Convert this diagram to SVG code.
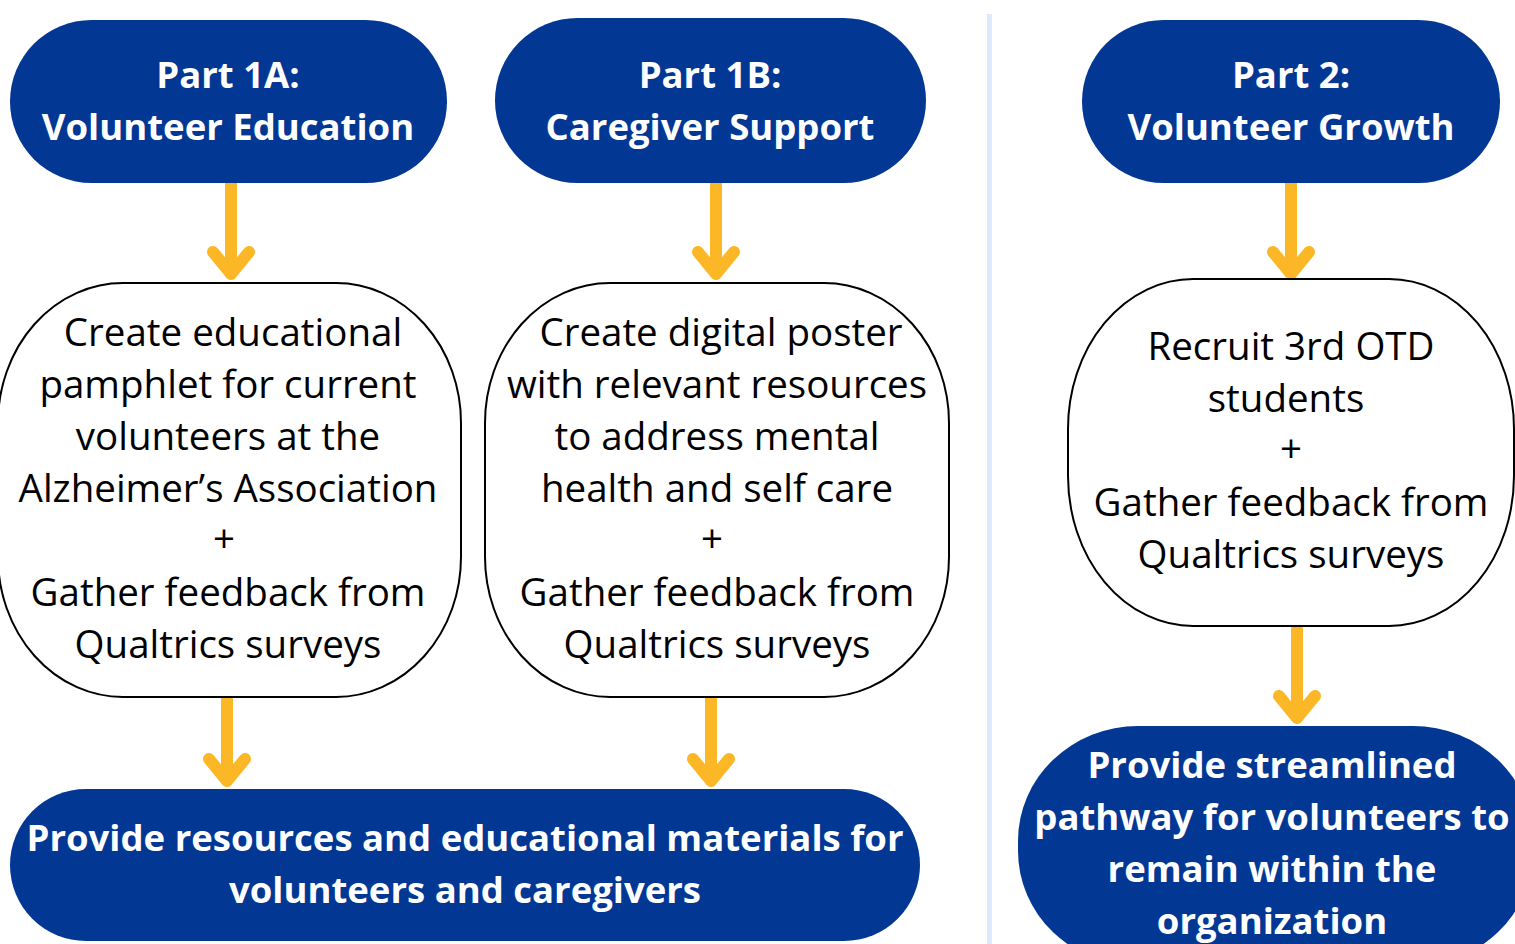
<svg xmlns="http://www.w3.org/2000/svg" width="1515" height="944" viewBox="0 0 1515 944">
<style>
.pill{fill:#023794}
.box{fill:#ffffff;stroke:#000000;stroke-width:2}
.h{font-family:"Open Sans","Noto Sans",sans-serif;font-weight:bold;font-size:36.5px;fill:#ffffff;text-anchor:middle}
.b{font-family:"Open Sans","Noto Sans",sans-serif;font-size:38.5px;fill:#000000;text-anchor:middle}
.arr{fill:none;stroke:#FBB726;stroke-width:12;stroke-linecap:round;stroke-linejoin:round}
</style>
<rect width="1515" height="944" fill="#ffffff"/>
<line x1="989.5" y1="14" x2="989.5" y2="944" stroke="#DCEAFB" stroke-width="5"/>
<g id="connectors">
<path class="arr" d="M231 183V274M213 252L231 274L249 252"/>
<path class="arr" d="M716 183V274M698 252L716 274L734 252"/>
<path class="arr" d="M1291 183V274M1273 252L1291 274L1309 252"/>
<path class="arr" d="M227 692V781M209 759L227 781L245 759"/>
<path class="arr" d="M711 692V781M693 759L711 781L729 759"/>
<path class="arr" d="M1297 629V718M1279 696L1297 718L1315 696"/>
</g>
<g id="part1a">
<rect class="pill" x="10" y="20" width="437" height="163" rx="81.5"/>
<text class="h" x="228" y="88">Part 1A:</text>
<text class="h" x="228" y="140">Volunteer Education</text>
</g>
<g id="part1b">
<rect class="pill" x="495" y="18" width="431" height="165" rx="82.5"/>
<text class="h" x="710" y="88">Part 1B:</text>
<text class="h" x="710" y="140">Caregiver Support</text>
</g>
<g id="part2">
<rect class="pill" x="1082" y="20" width="418" height="163" rx="81.5"/>
<text class="h" x="1291" y="88">Part 2:</text>
<text class="h" x="1291" y="140">Volunteer Growth</text>
</g>
<g id="task1a">
<rect class="box" x="-2" y="283" width="463" height="414" rx="125" ry="140"/>
<text class="b" x="233" y="346">Create educational</text>
<text class="b" x="228" y="398">pamphlet for current</text>
<text class="b" x="228" y="450">volunteers at the</text>
<text class="b" x="228" y="502">Alzheimer’s Association</text>
<text class="b" x="224" y="552">+</text>
<text class="b" x="228" y="606">Gather feedback from</text>
<text class="b" x="228" y="658">Qualtrics surveys</text>
</g>
<g id="task1b">
<rect class="box" x="485" y="283" width="464" height="414" rx="125" ry="140"/>
<text class="b" x="721" y="346">Create digital poster</text>
<text class="b" x="717" y="398">with relevant resources</text>
<text class="b" x="717" y="450">to address mental</text>
<text class="b" x="717" y="502">health and self care</text>
<text class="b" x="712" y="552">+</text>
<text class="b" x="717" y="606">Gather feedback from</text>
<text class="b" x="717" y="658">Qualtrics surveys</text>
</g>
<g id="task2">
<rect class="box" x="1068" y="279" width="446" height="347" rx="125" ry="150"/>
<text class="b" x="1291" y="360">Recruit 3rd OTD</text>
<text class="b" x="1286" y="412">students</text>
<text class="b" x="1291" y="462">+</text>
<text class="b" x="1291" y="516">Gather feedback from</text>
<text class="b" x="1291" y="568">Qualtrics surveys</text>
</g>
<g id="outcome1">
<rect class="pill" x="10" y="789" width="910" height="152" rx="76"/>
<text class="h" x="465" y="851">Provide resources and educational materials for</text>
<text class="h" x="465" y="903">volunteers and caregivers</text>
</g>
<g id="outcome2">
<rect class="pill" x="1018" y="726" width="515" height="240" rx="120" ry="115"/>
<text class="h" x="1272" y="778">Provide streamlined</text>
<text class="h" x="1272" y="830">pathway for volunteers to</text>
<text class="h" x="1272" y="882">remain within the</text>
<text class="h" x="1272" y="934">organization</text>
</g>
</svg>
